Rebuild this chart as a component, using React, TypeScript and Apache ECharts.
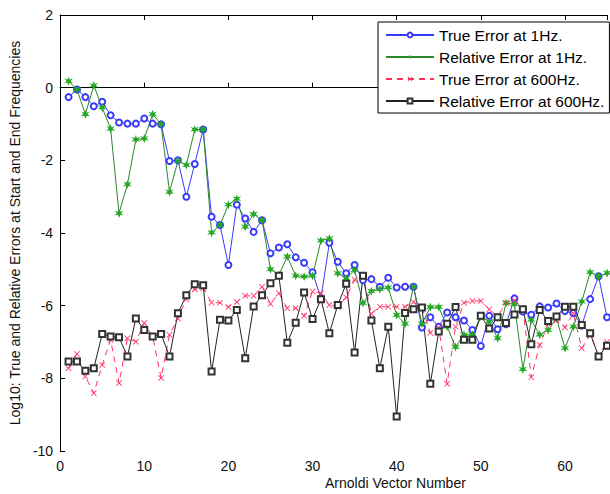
import React, { useEffect, useRef } from 'react';
import * as echarts from 'echarts';

const vectorNumbers = Array.from({ length: 65 }, (_, i) => i + 1);

const trueErr1Hz = [
  -0.26, -0.05, -0.26, -0.51, -0.39, -0.76, -0.96, -0.99, -0.99, -0.85,
  -0.99, -1.01, -2.02, -2.0, -3.0, -2.1, -1.15, -3.55, -3.78, -4.88,
  -3.22, -3.6, -3.97, -3.65, -4.56, -4.4, -4.31, -4.67, -4.82, -5.08,
  -5.8, -4.27, -4.79, -5.11, -4.88, -5.3, -5.27, -5.48, -5.23, -5.5,
  -5.48, -5.48, -6.6, -6.32, -6.58, -6.19, -6.32, -6.41, -6.67, -7.11,
  -6.28, -6.65, -6.51, -5.8, -6.16, -6.25, -6.02, -6.05, -5.94, -6.15,
  -6.2, -6.55, -5.82, -5.19, -6.32,
];

const relErr1Hz = [
  0.18, -0.05, -0.73, 0.06, -0.55, -1.13, -3.46, -2.66, -1.43, -1.4,
  -0.73, -1.01, -2.87, -2.02, -2.13, -1.15, -1.15, -3.99, -3.78, -3.22,
  -3.06, -3.83, -3.48, -3.65, -5.0, -5.15, -4.65, -5.18, -5.2, -5.18,
  -4.21, -4.15, -5.11, -5.25, -5.02, -5.93, -5.6, -5.54, -5.5, -6.26,
  -6.5, -5.48, -6.5, -6.04, -6.04, -6.58, -7.14, -6.8, -6.8, -6.3,
  -6.44, -6.9, -5.93, -5.96, -7.75, -6.39, -6.8, -6.67, -6.35, -7.17,
  -6.58, -5.89, -5.08, -5.2, -5.1,
];

const trueErr600Hz = [
  -7.72, -7.33, -7.95, -8.41, -7.63, -6.94, -8.13, -6.9, -6.99, -6.48,
  -6.85, -7.99, -6.8, -6.35, -5.82, -5.55, -5.52, -5.92, -5.92, -6.04,
  -5.9, -5.73, -5.73, -5.48, -5.95, -5.66, -6.07, -6.07, -6.28, -5.61,
  -5.66, -5.98, -6.03, -5.77, -5.29, -5.16, -6.22, -6.03, -6.03, -6.03,
  -6.03, -5.9, -6.04, -6.75, -6.6, -8.15, -6.58, -5.92, -5.87, -5.87,
  -6.1, -6.3, -5.92, -5.85, -6.08, -7.97, -7.08, -6.5, -6.4, -6.6,
  -6.21, -7.17, -6.8, -7.36, -7.0,
];

const relErr600Hz = [
  -7.54, -7.54, -7.79, -7.72, -6.78, -6.85, -6.87, -7.4, -6.35, -6.67,
  -6.85, -6.78, -7.4, -6.21, -5.71, -5.41, -5.44, -7.81, -6.39, -6.41,
  -6.12, -7.45, -6.02, -5.71, -5.38, -5.18, -7.02, -6.47, -5.64, -6.37,
  -5.82, -6.76, -5.98, -5.4, -7.29, -5.18, -6.41, -7.72, -6.58, -9.05,
  -6.2, -6.1, -6.05, -8.15, -6.71, -6.5, -6.04, -6.94, -6.94, -6.28,
  -6.63, -6.32, -6.48, -6.24, -6.1, -7.06, -6.12, -6.42, -6.3, -6.03,
  -6.03, -6.53, -6.76, -7.4, -7.1,
];

const seriesNames = [
  'True Error at 1Hz.',
  'Relative Error at 1Hz.',
  'True Error at 600Hz.',
  'Relative Error at 600Hz.',
];

const xTickValues = [0, 10, 20, 30, 40, 50, 60];

const FONT = 'Liberation Sans, Arial, Helvetica, sans-serif';

const starPath =
  'path://M5,0 L6.2,3.3 L9.8,2.1 L7.3,4.8 L10,7.3 L6.4,6.6 L5,10 L3.6,6.6 L0,7.3 L2.7,4.8 L0.2,2.1 L3.8,3.3 Z';
const crossPath =
  'path://M0,1 L1,0 L5,4 L9,0 L10,1 L6,5 L10,9 L9,10 L5,6 L1,10 L0,9 L4,5 Z';

function pairs(values: number[]) {
  return vectorNumbers.map((x, i) => [x, values[i]]);
}

export default function App() {
  const ref = useRef<HTMLDivElement>(null);

  useEffect(() => {
    document.body.style.margin = '0';
    const chart = echarts.init(ref.current!, null, { renderer: 'svg' });
    const axisCommon = {
      type: 'value' as const,
      min: 0,
      max: 65,
      interval: 10,
      splitLine: { show: false },
      axisLine: { show: true, lineStyle: { color: '#000', width: 1 } },
      axisTick: { show: true, inside: true, length: 5, lineStyle: { color: '#000' } },
    };
    chart.setOption({
      animation: false,
      backgroundColor: '#ffffff',
      textStyle: { fontFamily: FONT },
      grid: { left: 60, top: 15, width: 553, height: 436 },
      legend: {
        data: seriesNames,
        orient: 'vertical',
        left: 378,
        top: 22,
        padding: [5, 5, 4, 7],
        itemGap: 6,
        itemWidth: 48,
        itemHeight: 6,
        borderColor: '#000',
        borderWidth: 1,
        backgroundColor: '#fff',
        textStyle: { fontSize: 15.5, color: '#000', fontFamily: FONT },
      },
      xAxis: [
        {
          ...axisCommon,
          position: 'bottom',
          axisLabel: {
            fontSize: 14,
            color: '#111',
            margin: 8,
            fontFamily: FONT,
            formatter: (v: number) => (xTickValues.includes(v) ? String(v) : ''),
          },
        },
        {
          ...axisCommon,
          position: 'top',
          axisLabel: { show: false },
        },
      ],
      yAxis: {
        type: 'value',
        min: -10,
        max: 2,
        interval: 2,
        name: 'Log10: True and Relative Errors at Start and End Frequencies',
        nameLocation: 'middle',
        nameGap: 31,
        nameTextStyle: { fontSize: 14, color: '#111', fontFamily: FONT },
        splitLine: { show: false },
        axisLine: { show: true, lineStyle: { color: '#000', width: 1 } },
        axisTick: { show: true, inside: true, length: 5, lineStyle: { color: '#000' } },
        axisLabel: { fontSize: 14, color: '#111', margin: 7, fontFamily: FONT },
      },
      graphic: [
        {
          type: 'text',
          left: 325,
          top: 476,
          style: {
            text: 'Arnoldi Vector Number',
            fontSize: 14,
            fill: '#111',
            fontFamily: FONT,
            align: 'center',
          },
        },
      ],
      series: [
        {
          name: seriesNames[0],
          type: 'line',
          data: pairs(trueErr1Hz),
          symbol: 'emptyCircle',
          symbolSize: 6,
          itemStyle: { color: '#3a3aff', borderWidth: 1 },
          lineStyle: { color: '#3a3aff', width: 1 },
        },
        {
          name: seriesNames[1],
          type: 'line',
          data: pairs(relErr1Hz),
          symbol: starPath,
          symbolSize: 9,
          itemStyle: { color: '#22a822' },
          lineStyle: { color: '#2c862c', width: 1 },
        },
        {
          name: seriesNames[2],
          type: 'line',
          data: pairs(trueErr600Hz),
          symbol: crossPath,
          symbolSize: 6,
          itemStyle: { color: '#ff3060' },
          lineStyle: { color: '#ff3060', width: 1, type: [6, 5] },
        },
        {
          name: seriesNames[3],
          type: 'line',
          data: pairs(relErr600Hz),
          symbol: 'emptyRect',
          symbolSize: 6,
          itemStyle: { color: '#333', borderWidth: 1 },
          lineStyle: { color: '#222', width: 1 },
        },
      ],
    });
    return () => chart.dispose();
  }, []);

  return <div ref={ref} style={{ width: 610, height: 494 }} />;
}
